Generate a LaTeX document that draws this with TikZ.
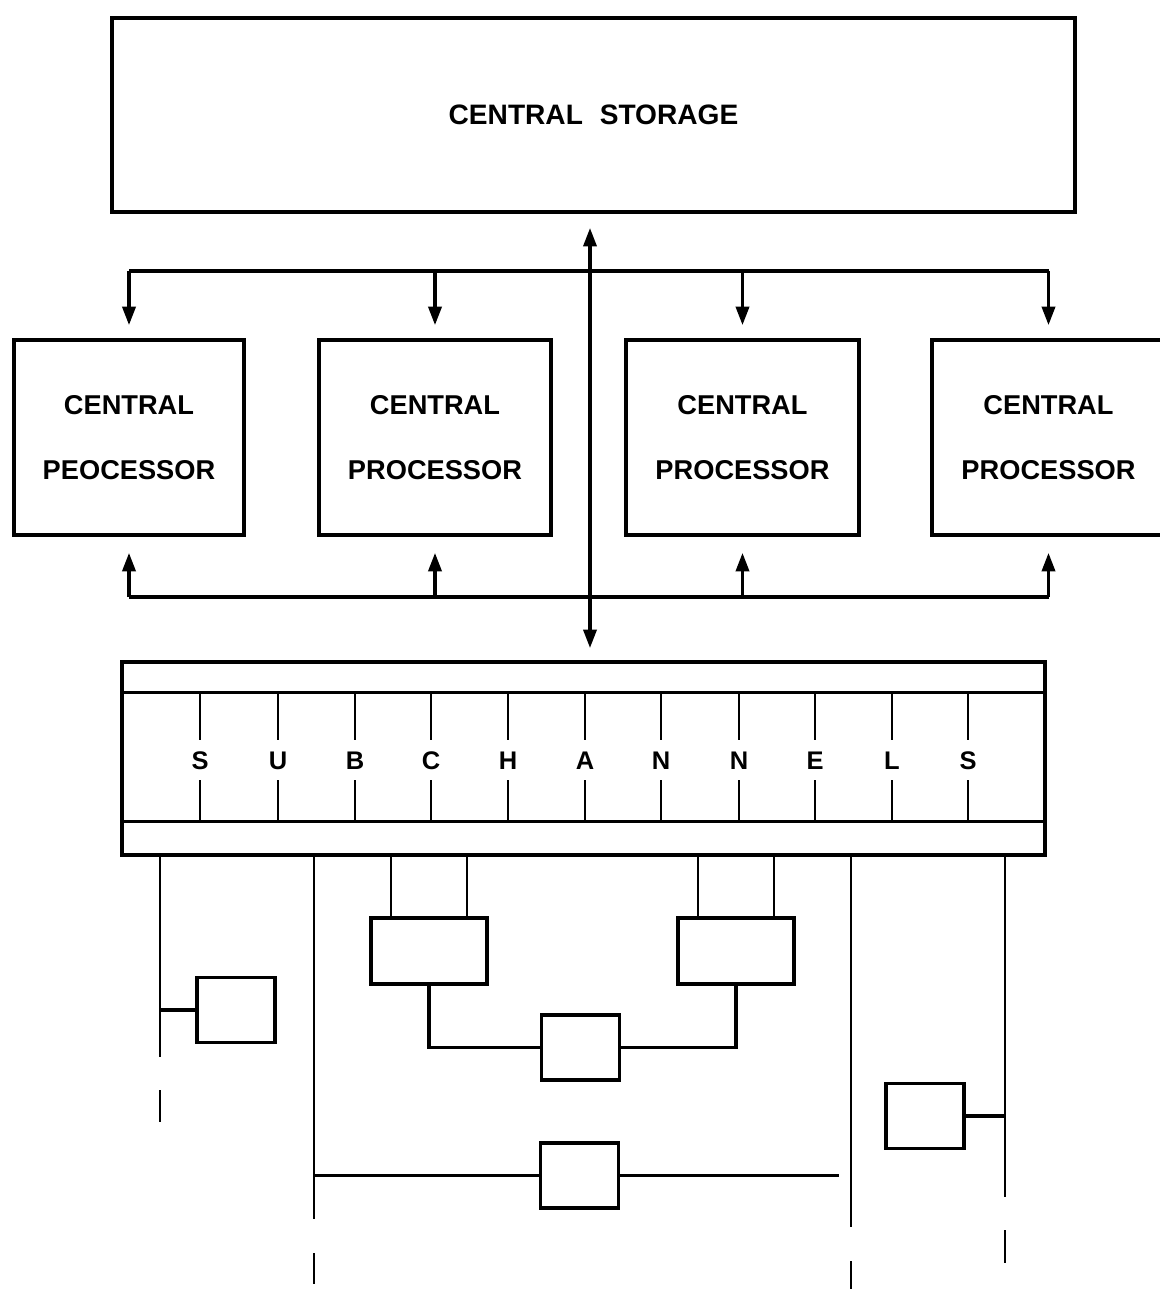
\documentclass[tikz,border=0pt]{standalone}
\usepackage{fontspec}
\setmainfont{Liberation Sans}
\usetikzlibrary{arrows.meta}
\begin{document}
\begin{tikzpicture}[x=0.02cm,y=-0.02cm,
  box/.style={draw, line width=2.2pt, inner sep=0pt},
  bus/.style={line width=1.8pt},
  thinline/.style={line width=1.2pt},
  wire/.style={line width=1.6pt},
  hwire/.style={line width=2pt},
  arr/.style={-{Triangle[length=10.5pt,width=7.5pt]}},
  dbl/.style={{Triangle[length=10.5pt,width=7.5pt]}-{Triangle[length=10.5pt,width=7.5pt]}},
  lbl/.style={font=\fontsize{15.5}{37.4}\selectfont\bfseries, align=center},
  stlbl/.style={font=\fontsize{16}{20}\selectfont\bfseries},
  letter/.style={font=\fontsize{14.5}{16}\selectfont\bfseries, inner xsep=0pt, inner ysep=0.22cm, text height=10.4pt, text depth=0pt},
  procbox/.style={box, lbl, minimum height=3.9cm},
  smallbox/.style={box, minimum width=1.56cm, minimum height=1.3cm},
  midbox/.style={box, minimum width=2.32cm, minimum height=1.32cm}
]
\useasboundingbox (0,0) rectangle (1160,1289);

% central storage
\node[box, stlbl, minimum width=19.26cm, minimum height=3.88cm] (cs) at (593.5,115) {CENTRAL\hspace{0.6em}STORAGE};

% processors
\node[procbox, minimum width=4.6cm]  (p1) at (129,437.5)   {CENTRAL\\PEOCESSOR};
\node[procbox, minimum width=4.64cm] (p2) at (435,437.5)   {CENTRAL\\PROCESSOR};
\node[procbox, minimum width=4.66cm] (p3) at (742.5,437.5) {CENTRAL\\PROCESSOR};
\node[procbox, minimum width=4.66cm] (p4) at (1048.5,437.5) {CENTRAL\\PROCESSOR};

% top bus
\coordinate (tbus) at (0,271);
\draw[bus] (p1.north |- tbus) -- (p4.north |- tbus);
\foreach \p in {p1,p2,p3,p4}
  \draw[bus, arr, shorten >=0.26cm] (\p.north |- tbus) -- (\p.north);

% bottom bus
\coordinate (bbus) at (0,597);
\draw[bus] (p1.south |- bbus) -- (p4.south |- bbus);
\foreach \p in {p1,p2,p3,p4}
  \draw[bus, arr, shorten >=0.32cm] (\p.south |- bbus) -- (\p.south);

% subchannels block
\node[box, minimum width=18.46cm, minimum height=3.86cm] (sc) at (583.5,758.5) {};
\coordinate (il1) at (0,692.5);
\coordinate (il2) at (0,821.5);
\draw[box] (sc.west |- il1) -- (sc.east |- il1);
\draw[box] (sc.west |- il2) -- (sc.east |- il2);

% storage <-> subchannels
\coordinate (dtop) at (590,228);
\coordinate (dbot) at (590,648);
\draw[bus, dbl] (dtop) -- (dbot);

\foreach \x/\t [count=\i] in {200/S,278/U,355/B,431/C,508/H,585/A,661/N,739/N,815/E,892/L,968/S} {
  \node[letter] (s\i) at (\x,760) {\t};
  \draw[thinline] (s\i.north |- il1) -- (s\i.north);
  \draw[thinline] (s\i.south) -- (s\i.south |- il2);
}

% lower devices
\node[smallbox] (b1) at (236,1010) {};
\node[midbox]   (bA) at (429,951) {};
\node[midbox]   (bB) at (736,951) {};
\node[smallbox] (bM) at (580.5,1047.5) {};
\node[smallbox] (bL) at (579.5,1175.5) {};
\node[smallbox] (bR) at (925,1116) {};

% channel lines
\coordinate (l1a) at (160,855);  \coordinate (l1b) at (160,1057);
\coordinate (l1c) at (160,1090); \coordinate (l1d) at (160,1122);
\coordinate (l2a) at (314,855);  \coordinate (l2b) at (314,1219);
\coordinate (l2c) at (314,1253); \coordinate (l2d) at (314,1284);
\coordinate (l3a) at (851,855);  \coordinate (l3b) at (851,1227);
\coordinate (l3c) at (851,1261); \coordinate (l3d) at (851,1289);
\coordinate (l4a) at (1005,855); \coordinate (l4b) at (1005,1197);
\coordinate (l4c) at (1005,1230); \coordinate (l4d) at (1005,1263);
\draw[wire] (l1a) -- (l1b);  \draw[wire] (l1c) -- (l1d);
\draw[wire] (l2a) -- (l2b);  \draw[wire] (l2c) -- (l2d);
\draw[wire] (l3a) -- (l3b);  \draw[wire] (l3c) -- (l3d);
\draw[wire] (l4a) -- (l4b);  \draw[wire] (l4c) -- (l4d);

% branches
\draw[hwire] (b1.west -| l1a) -- (b1.west);
\draw[hwire] (bR.east) -- (bR.east -| l4a);
\coordinate (hend) at (839,1175.5);
\draw[hwire] (bL.west -| l2a) -- (bL.west);
\draw[hwire] (bL.east) -- (hend);

% control unit links
\coordinate (ta1) at (391,855); \coordinate (ta2) at (467,855);
\coordinate (tb1) at (698,855); \coordinate (tb2) at (774,855);
\draw[wire] (ta1) -- (ta1 |- bA.north);
\draw[wire] (ta2) -- (ta2 |- bA.north);
\draw[wire] (tb1) -- (tb1 |- bB.north);
\draw[wire] (tb2) -- (tb2 |- bB.north);
\draw[hwire] (bA.south) |- (bM.west);
\draw[hwire] (bB.south) |- (bM.east);
\end{tikzpicture}
\end{document}
